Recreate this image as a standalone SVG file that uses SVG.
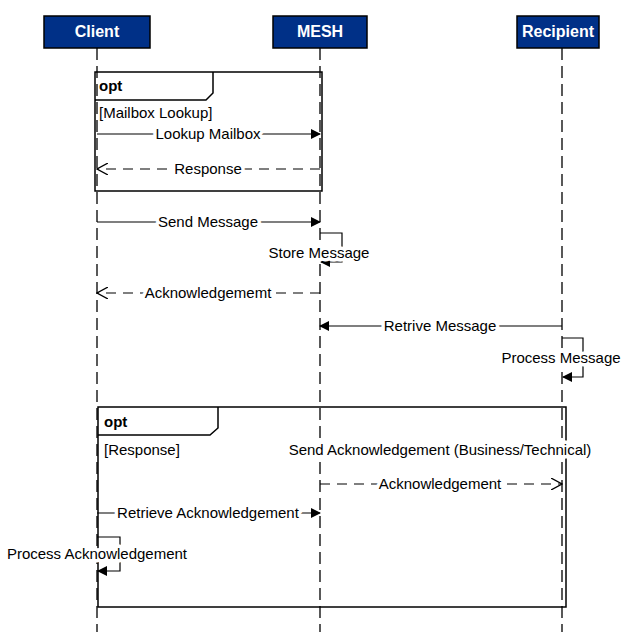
<svg xmlns="http://www.w3.org/2000/svg" width="623" height="632" viewBox="0 0 623 632">
<style>
.hd{fill:#003087;stroke:#000;stroke-width:1.5}
.ht{font:bold 16px "Liberation Sans",Arial,sans-serif;fill:#fff;text-anchor:middle}
.ll{stroke:#000;stroke-width:1.3;stroke-dasharray:12,6;fill:none}
.fr{fill:none;stroke:#000;stroke-width:1.5}
.m{stroke:#000;stroke-width:1.2;fill:none}
.d{stroke:#000;stroke-width:1.2;fill:none;stroke-dasharray:10,7}
.t{font:15px "Liberation Sans",Arial,sans-serif;fill:#000;text-anchor:middle;stroke:#fff;stroke-width:7;paint-order:stroke;stroke-linejoin:round}
.tl{text-anchor:start;stroke:none}
.ot{font:bold 15px "Liberation Sans",Arial,sans-serif}
</style>
<defs>
<marker id="f" markerWidth="10" markerHeight="10" refX="9" refY="5" orient="auto" markerUnits="userSpaceOnUse"><path d="M0,0L10,5L0,10z" fill="#000"/></marker>
<marker id="o" markerWidth="12" markerHeight="12" refX="11" refY="6" orient="auto" markerUnits="userSpaceOnUse"><path d="M0,0L11,6L0,12" fill="none" stroke="#000" stroke-width="1.3"/></marker>
</defs>
<g id="lifelines">
<path class="ll" d="M97,48V632M320,48V632M562,48V632"/>
</g>
<g id="client"><rect class="hd" x="44" y="16" width="106" height="32"/><text class="ht" x="97" y="37">Client</text></g>
<g id="mesh"><rect class="hd" x="273" y="16" width="94" height="32"/><text class="ht" x="320" y="37">MESH</text></g>
<g id="recipient"><rect class="hd" x="517" y="16" width="82" height="32"/><text class="ht" x="558" y="37">Recipient</text></g>
<g id="opt1">
<rect class="fr" x="95" y="72" width="227" height="119"/>
<path class="fr" d="M95,100H206L213,93V72"/>
<text class="t tl ot" x="99" y="91">opt</text>
<text class="t tl" x="99" y="118">[Mailbox Lookup]</text>
</g>
<g id="opt2">
<rect class="fr" x="98" y="407" width="468" height="200"/>
<path class="fr" d="M98,435H210L218,428V407"/>
<text class="t tl ot" x="104" y="427">opt</text>
<text class="t tl" x="104" y="455">[Response]</text>
<text class="t" x="440" y="455">Send Acknowledgement (Business/Technical)</text>
</g>
<g id="connectors">
<path class="m" d="M97,134H320" marker-end="url(#f)"/><text class="t" x="208" y="139">Lookup Mailbox</text>
<path class="d" d="M320,169H97" marker-end="url(#o)"/><text class="t" x="208" y="174">Response</text>
<path class="m" d="M97,222H320" marker-end="url(#f)"/><text class="t" x="208" y="227">Send Message</text>
<path class="m" d="M320,233H342V262H321" marker-end="url(#f)"/><text class="t" x="319" y="258">Store Message</text>
<path class="d" d="M320,293H97" marker-end="url(#o)"/><text class="t" x="208" y="298">Acknowledgememt</text>
<path class="m" d="M562,326H320" marker-end="url(#f)"/><text class="t" x="440" y="331">Retrive Message</text>
<path class="m" d="M562,338H583V377H563" marker-end="url(#f)"/><text class="t" x="561" y="363">Process Message</text>
<path class="d" d="M320,484H562" marker-end="url(#o)"/><text class="t" x="440" y="489">Acknowledgement</text>
<path class="m" d="M97,513H320" marker-end="url(#f)"/><text class="t" x="208" y="518">Retrieve Acknowledgement</text>
<path class="m" d="M97,537H120V571H98" marker-end="url(#f)"/><text class="t" x="97" y="559">Process Acknowledgement</text>
</g>
</svg>
